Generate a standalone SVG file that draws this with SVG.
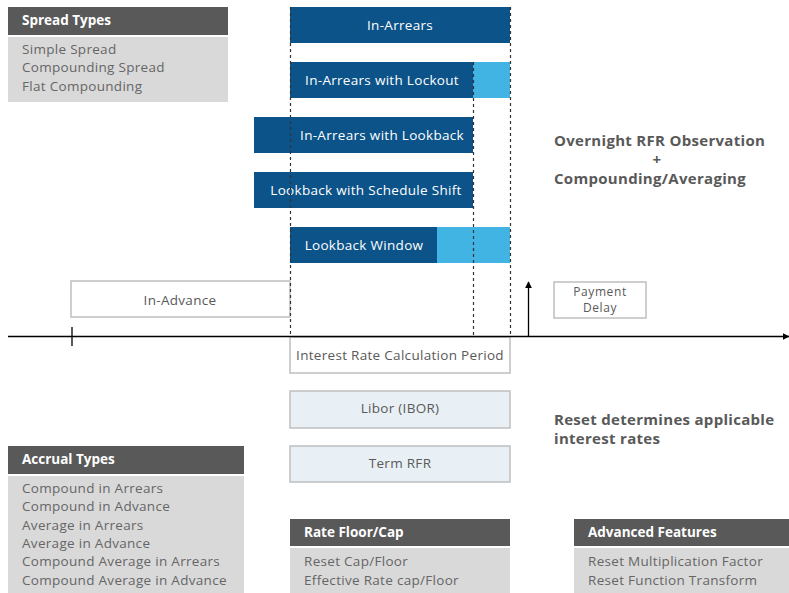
<svg xmlns="http://www.w3.org/2000/svg" width="789" height="593" viewBox="0 0 789 593">
<defs>
<style>
text{font-family:"Open Sans","Liberation Sans",sans-serif;}
.hdr{fill:#595959;}
.body{fill:#d9d9d9;}
.ht{fill:#ffffff;font-size:13.5px;font-weight:bold;}
.bt{fill:#666666;font-size:13.5px;letter-spacing:0.3px;}
.dark{fill:#0c5389;}
.light{fill:#41b4e4;}
.wt{fill:#ffffff;font-size:13.5px;letter-spacing:0.3px;text-anchor:middle;}
.box{fill:#ffffff;stroke:#bfbfbf;stroke-width:1.5;}
.pale{fill:#e9f0f5;stroke:#bfbfbf;stroke-width:1.5;}
.gt{fill:#595959;font-size:13.5px;letter-spacing:0.3px;text-anchor:middle;}
.pd{fill:#595959;font-size:12px;letter-spacing:0.6px;text-anchor:middle;}
.big{fill:#595959;font-size:15px;font-weight:bold;letter-spacing:0.3px;}
.dash{stroke:#333333;stroke-width:1.2;stroke-dasharray:3,3;fill:none;}
.line{stroke:#000000;stroke-width:1.3;fill:none;}
</style>
<marker id="ah" viewBox="0 0 10 10" refX="9" refY="5" markerWidth="7" markerHeight="7" markerUnits="userSpaceOnUse" orient="auto"><path d="M0,0L10,5L0,10z" fill="#000"/></marker>
</defs>
<rect width="789" height="593" fill="#ffffff"/>

<g id="spread-types">
<rect class="hdr" x="8" y="7" width="220" height="28"/>
<rect class="body" x="8" y="37" width="220" height="65"/>
<text class="ht" x="22" y="25">Spread Types</text>
<text class="bt" x="22" y="54">Simple Spread</text>
<text class="bt" x="22" y="72">Compounding Spread</text>
<text class="bt" x="22" y="91">Flat Compounding</text>
</g>

<g id="in-arrears">
<rect class="dark" x="290" y="7" width="220" height="36"/>
<text class="wt" x="400" y="30">In-Arrears</text>
</g>
<g id="in-arrears-lockout">
<rect class="dark" x="290" y="62" width="183" height="36"/>
<rect class="light" x="473" y="62" width="37" height="36"/>
<text class="wt" x="382" y="85">In-Arrears with Lockout</text>
</g>
<g id="in-arrears-lookback">
<rect class="dark" x="254" y="117" width="219" height="36"/>
<text class="wt" x="382" y="140">In-Arrears with Lookback</text>
</g>
<g id="lookback-schedule-shift">
<rect class="dark" x="254" y="172" width="219" height="36"/>
<text class="wt" x="366" y="195">Lookback with Schedule Shift</text>
</g>
<g id="lookback-window">
<rect class="dark" x="290" y="227" width="147" height="36"/>
<rect class="light" x="437" y="227" width="73" height="36"/>
<text class="wt" x="364" y="250">Lookback Window</text>
</g>

<g id="overnight-label">
<text class="big" x="554" y="146">Overnight RFR Observation</text>
<text class="big" x="657" y="165" text-anchor="middle" font-size="13">+</text>
<text class="big" x="554" y="184">Compounding/Averaging</text>
</g>

<g id="in-advance">
<rect class="box" x="71" y="281" width="219" height="36"/>
<text class="gt" x="180" y="305">In-Advance</text>
</g>

<g id="payment-delay">
<rect class="box" x="554" y="282" width="92" height="36"/>
<text class="pd" x="600" y="296">Payment</text>
<text class="pd" x="600" y="312">Delay</text>
</g>

<g id="calc-period">
<rect class="box" x="290" y="337" width="220" height="36"/>
<text class="gt" x="400" y="360">Interest Rate Calculation Period</text>
</g>

<g id="libor">
<rect class="pale" x="290" y="391" width="220" height="37"/>
<text class="gt" x="400" y="413">Libor (IBOR)</text>
</g>
<g id="term-rfr">
<rect class="pale" x="290" y="446" width="220" height="36"/>
<text class="gt" x="400" y="468">Term RFR</text>
</g>

<g id="reset-label">
<text class="big" x="554" y="425">Reset determines applicable</text>
<text class="big" x="554" y="444">interest rates</text>
</g>

<g id="accrual-types">
<rect class="hdr" x="8" y="446" width="236" height="28"/>
<rect class="body" x="8" y="476" width="236" height="117"/>
<text class="ht" x="22" y="464">Accrual Types</text>
<text class="bt" x="22" y="493">Compound in Arrears</text>
<text class="bt" x="22" y="511">Compound in Advance</text>
<text class="bt" x="22" y="530">Average in Arrears</text>
<text class="bt" x="22" y="548">Average in Advance</text>
<text class="bt" x="22" y="566">Compound Average in Arrears</text>
<text class="bt" x="22" y="585">Compound Average in Advance</text>
</g>

<g id="rate-floor-cap">
<rect class="hdr" x="290" y="519" width="220" height="27"/>
<rect class="body" x="290" y="548" width="220" height="45"/>
<text class="ht" x="304" y="537">Rate Floor/Cap</text>
<text class="bt" x="304" y="566">Reset Cap/Floor</text>
<text class="bt" x="304" y="585">Effective Rate cap/Floor</text>
</g>

<g id="advanced-features">
<rect class="hdr" x="574" y="519" width="215" height="27"/>
<rect class="body" x="574" y="548" width="215" height="45"/>
<text class="ht" x="588" y="537">Advanced Features</text>
<text class="bt" x="588" y="566">Reset Multiplication Factor</text>
<text class="bt" x="588" y="585">Reset Function Transform</text>
</g>

<g id="connectors">
<line class="dash" x1="290.5" y1="7" x2="290.5" y2="337"/>
<line class="dash" x1="473.5" y1="62" x2="473.5" y2="337"/>
<line class="dash" x1="510.5" y1="7" x2="510.5" y2="337"/>
<line class="line" x1="8" y1="336.5" x2="789" y2="336.5" marker-end="url(#ah)"/>
<line class="line" x1="72" y1="327" x2="72" y2="346"/>
<line class="line" x1="528.5" y1="336.5" x2="528.5" y2="282" marker-end="url(#ah)"/>
</g>
</svg>
